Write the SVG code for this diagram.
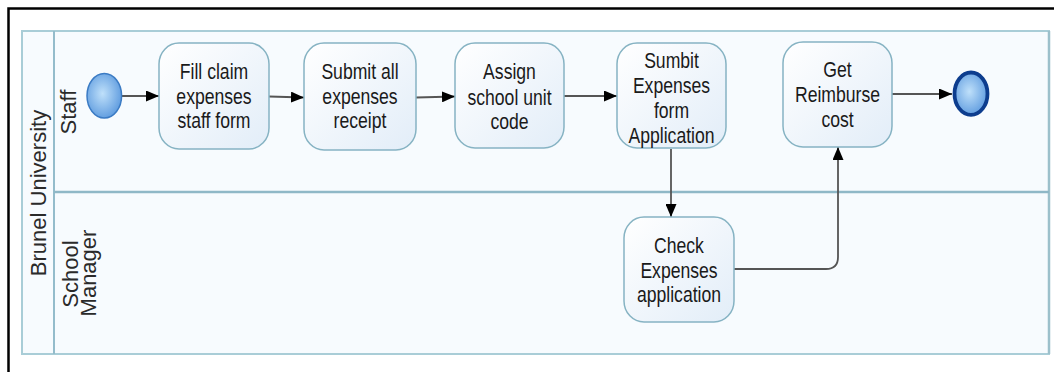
<svg xmlns="http://www.w3.org/2000/svg" width="1054" height="372" viewBox="0 0 1054 372">
<style>
.task{fill:url(#taskGrad);stroke:#86b3c3;stroke-width:1.5}
.lbl{font-family:"Liberation Sans",Arial,sans-serif;font-size:22px;fill:#1a1a1a;text-anchor:middle}
.lane{font-family:"Liberation Sans",Arial,sans-serif;font-size:22px;fill:#2a2a2a;text-anchor:middle}
.conn{fill:none;stroke:#555;stroke-width:1.8}
</style>
<defs>
<linearGradient id="taskGrad" x1="0" y1="0" x2="1" y2="1">
<stop offset="0" stop-color="#ffffff"/>
<stop offset="1" stop-color="#e2edf8"/>
</linearGradient>
<radialGradient id="evGrad" cx="0.45" cy="0.45" r="0.6">
<stop offset="0" stop-color="#bfe0fa"/>
<stop offset="1" stop-color="#5b99de"/>
</radialGradient>
<marker id="arr" markerUnits="userSpaceOnUse" markerWidth="13" markerHeight="11" refX="13" refY="5.5" orient="auto">
<path d="M0,0 L13,5.5 L0,11 z" fill="#000"/>
</marker>
</defs>
<rect width="1054" height="372" fill="#fff"/>
<!-- outer frame -->
<path d="M8.5,372 L8.5,8.5 L1054,8.5" fill="none" stroke="#000" stroke-width="2.5"/>
<!-- pool -->
<g id="pool">
<rect x="22" y="31" width="1027" height="323" fill="#f7fbfe" stroke="#a9cdd7" stroke-width="2"/>
<line x1="1049" y1="31" x2="1049" y2="354" stroke="#9cc0cb" stroke-width="2.5"/>
<line x1="54" y1="31" x2="54" y2="354" stroke="#94bccb" stroke-width="2"/>
<line x1="54" y1="192" x2="1049" y2="192" stroke="#8fb8c7" stroke-width="2.5"/>
<text class="lane" transform="translate(45.5,193) rotate(-90)">Brunel University</text>
</g>
<g id="lane-staff">
<text class="lane" transform="translate(76,112) rotate(-90)">Staff</text>
</g>
<g id="lane-manager">
<text class="lane" transform="translate(77.5,274) rotate(-90)">School</text>
<text class="lane" transform="translate(96,273) rotate(-90)">Manager</text>
</g>
<!-- connectors -->
<g id="connectors">
<path class="conn" marker-end="url(#arr)" d="M122,96 L159,96"/>
<path class="conn" marker-end="url(#arr)" d="M269,96.5 L304,97.5"/>
<path class="conn" marker-end="url(#arr)" d="M416,97.5 L455,96.5"/>
<path class="conn" marker-end="url(#arr)" d="M564,96 L617,96"/>
<path class="conn" marker-end="url(#arr)" d="M671,149 L671,217"/>
<path class="conn" marker-end="url(#arr)" d="M734,269 L826,269 Q838,269 838,257 L838,147"/>
<path class="conn" marker-end="url(#arr)" d="M892,94 L952,94"/>
</g>
<!-- nodes -->
<g id="start">
<ellipse cx="104.3" cy="95.8" rx="17.3" ry="22.3" fill="url(#evGrad)" stroke="#3b7bc4" stroke-width="1.5"/>
</g>
<g id="task-fill">
<rect class="task" x="159" y="43" width="110" height="106" rx="20" ry="21"/>
<text class="lbl" transform="matrix(0.8 0 0 1 214 0)"><tspan x="0" y="79">Fill claim</tspan><tspan x="0" y="104">expenses</tspan><tspan x="0" y="128">staff form</tspan></text>
</g>
<g id="task-submit">
<rect class="task" x="304" y="43" width="112" height="107" rx="20" ry="21"/>
<text class="lbl" transform="matrix(0.8 0 0 1 360 0)"><tspan x="0" y="79">Submit all</tspan><tspan x="0" y="104">expenses</tspan><tspan x="0" y="128">receipt</tspan></text>
</g>
<g id="task-assign">
<rect class="task" x="455" y="43" width="109" height="105" rx="20" ry="21"/>
<text class="lbl" transform="matrix(0.8 0 0 1 509.5 0)"><tspan x="0" y="79">Assign</tspan><tspan x="0" y="105">school unit</tspan><tspan x="0" y="129">code</tspan></text>
</g>
<g id="task-sumbit">
<rect class="task" x="617" y="43" width="109" height="105" rx="20" ry="21"/>
<text class="lbl" transform="matrix(0.8 0 0 1 671.5 0)"><tspan x="0" y="68">Sumbit</tspan><tspan x="0" y="93">Expenses</tspan><tspan x="0" y="118">form</tspan><tspan x="0" y="143">Application</tspan></text>
</g>
<g id="task-reimburse">
<rect class="task" x="783" y="42" width="109" height="105" rx="20" ry="21"/>
<text class="lbl" transform="matrix(0.8 0 0 1 837.5 0)"><tspan x="0" y="77">Get</tspan><tspan x="0" y="102">Reimburse</tspan><tspan x="0" y="127">cost</tspan></text>
</g>
<g id="task-check">
<rect class="task" x="624" y="217" width="110" height="105" rx="20" ry="21"/>
<text class="lbl" transform="matrix(0.8 0 0 1 679 0)"><tspan x="0" y="253">Check</tspan><tspan x="0" y="278">Expenses</tspan><tspan x="0" y="302">application</tspan></text>
</g>
<g id="end">
<ellipse cx="971" cy="93.7" rx="16.5" ry="21.2" fill="url(#evGrad)" stroke="#0d3d8e" stroke-width="3.8"/>
</g>
</svg>
